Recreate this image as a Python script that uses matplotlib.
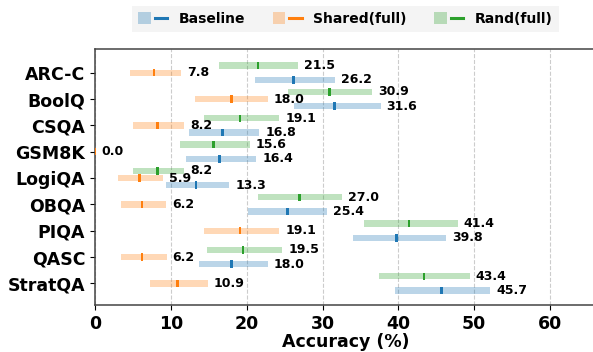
import matplotlib
matplotlib.use('Agg')
import matplotlib.pyplot as plt
from matplotlib.patches import Patch
from matplotlib.lines import Line2D
from matplotlib.legend_handler import HandlerTuple
import numpy as np

categories = ['ARC-C', 'BoolQ', 'CSQA', 'GSM8K', 'LogiQA', 'OBQA', 'PIQA', 'QASC', 'StratQA']

baseline_mean = [26.2, 31.6, 16.8, 16.4, 13.3, 25.4, 39.8, 18.0, 45.7]
baseline_low = [21.05, 26.25, 12.4, 12.0, 9.3, 20.2, 34.0, 13.65, 39.5]
baseline_high = [31.7, 37.65, 21.65, 21.25, 17.7, 30.6, 46.25, 22.8, 52.15]

shared_mean = [7.8, 18.0, 8.2, 0.0, 5.9, 6.2, 19.1, 6.2, 10.9]
shared_low = [4.65, 13.25, 5.0, 0.0, 3.0, 3.4, 14.4, 3.4, 7.3]
shared_high = [11.4, 22.8, 11.8, 0.0, 9.0, 9.4, 24.3, 9.45, 14.85]

rand_mean = [21.5, 30.9, 19.1, 15.6, 8.2, 27.0, 41.4, 19.5, 43.4]
rand_low = [16.3, 25.4, 14.4, 11.2, 5.0, 21.45, 35.5, 14.75, 37.5]
rand_high = [26.75, 36.5, 24.3, 20.4, 11.75, 32.55, 47.85, 24.7, 49.4]

series = [
    ('Baseline', baseline_mean, baseline_low, baseline_high, '#1f77b4', 0.27),
    ('Shared(full)', shared_mean, shared_low, shared_high, '#ff7f0e', 0.0),
    ('Rand(full)', rand_mean, rand_low, rand_high, '#2ca02c', -0.27),
]

fig = plt.figure(figsize=(5.93, 3.52), dpi=100)
ax = fig.add_axes([95 / 593, 47 / 352, 500.5 / 593, 256 / 352])

y = np.arange(len(categories))
bar_h = 0.24
handles = []
for name, mean, low, high, color, off in series:
    mean = np.array(mean)
    low = np.array(low)
    high = np.array(high)
    yy = y + off
    ax.barh(yy, high - low, left=low, height=bar_h, color=color, alpha=0.3,
            linewidth=0, zorder=2)
    ax.barh(yy, 0.35, left=mean - 0.175, height=0.28, color=color,
            linewidth=0, zorder=3)
    for yi, hi, m in zip(yy, high, mean):
        ax.text(hi + 0.8, yi, f'{m:.1f}', va='center', ha='left',
                fontsize=9, fontweight='bold', zorder=4)
    handles.append((Patch(facecolor=color, alpha=0.3, linewidth=0),
                    Line2D([0], [0], color=color, lw=2.2)))

ax.set_xlim(0, 66)
ax.set_ylim(8.82, -0.9)
ax.set_yticks(y)
ax.set_yticklabels(categories, fontsize=12.5, fontweight='bold')
ax.set_xticks([0, 10, 20, 30, 40, 50, 60])
ax.set_xticklabels(['0', '10', '20', '30', '40', '50', '60'], fontsize=12.5, fontweight='bold')
ax.set_xlabel('Accuracy (%)', fontsize=12.5, fontweight='bold', labelpad=0)
ax.grid(axis='x', linestyle='--', color='#cccccc', linewidth=0.8, zorder=0)
ax.set_axisbelow(True)
for s in ax.spines.values():
    s.set_color('#444444')
    s.set_linewidth(1.1)

leg = ax.legend(handles, ['Baseline', 'Shared(full)', 'Rand(full)'],
                handler_map={tuple: HandlerTuple(ndivide=None, pad=0.3)},
                loc='lower center', bbox_to_anchor=(0.5, 1.066), ncol=3,
                prop={'weight': 'bold', 'size': 10}, frameon=True,
                handlelength=2.1, handleheight=0.9, handletextpad=0.8,
                columnspacing=2.0, borderpad=0.45, borderaxespad=0,
                fancybox=False)
leg.get_frame().set_facecolor('#f2f2f2')
leg.get_frame().set_edgecolor('none')

fig.savefig('out.png', dpi=100)
